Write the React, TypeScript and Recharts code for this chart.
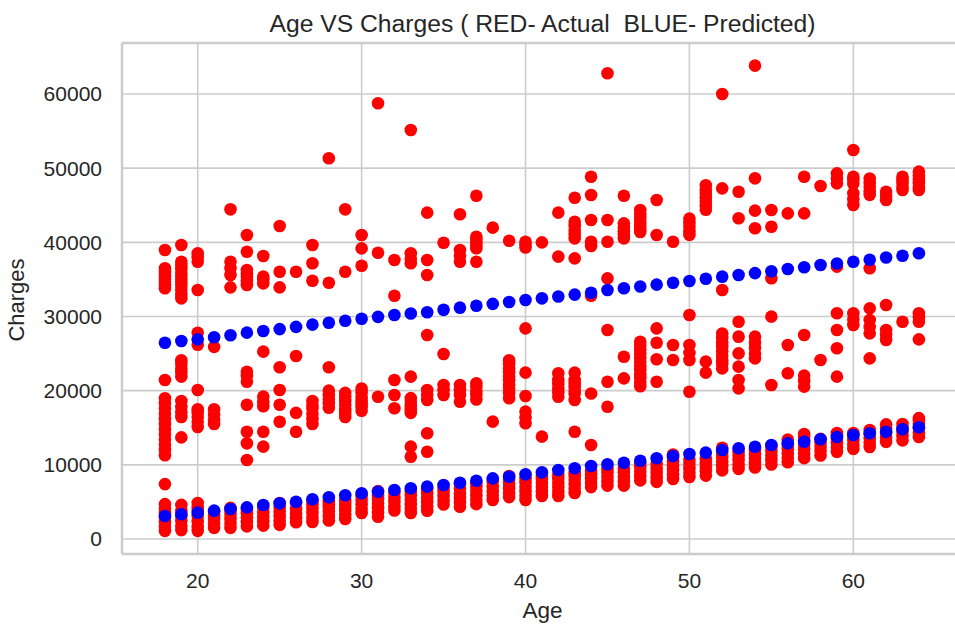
import React from 'react';
import { ScatterChart, Scatter, XAxis, YAxis, CartesianGrid, ReferenceLine } from 'recharts';

// Ages shown on the x axis (one column of points per age)
const ages = [
  18, 19, 20, 21, 22, 23, 24, 25, 26, 27, 28, 29, 30, 31, 32, 33, 34, 35, 36, 37, 38, 39, 40, 41,
  42, 43, 44, 45, 46, 47, 48, 49, 50, 51, 52, 53, 54, 55, 56, 57, 58, 59, 60, 61, 62, 63, 64,
];
const xTicks = [20, 30, 40, 50, 60];
const yTicks = [0, 10000, 20000, 30000, 40000, 50000, 60000];

// Actual charges (red), dense lower band, one row per age
const actualLowBand: number[][] = [
  [1100, 1700, 2300, 2900, 3500, 4100, 4700, 7400], // 18
  [1200, 1800, 2500, 3100, 3800, 4600], // 19
  [1100, 1700, 2400, 3100, 3800, 4300, 4850], // 20
  [1500, 2100, 2700, 3200, 3700], // 21
  [1500, 2100, 2700, 3300, 3800, 4200], // 22
  [1700, 2300, 2900, 3500, 4000], // 23
  [1800, 2400, 3000, 3600, 4300], // 24
  [1900, 2500, 3100, 3700, 4300, 4850], // 25
  [2250, 2850, 3450, 4050, 4850], // 26
  [2300, 2900, 3500, 4100, 4600, 5100], // 27
  [2500, 3100, 3700, 4300, 4700, 5100], // 28
  [2700, 3300, 3900, 4500, 4900, 5300], // 29
  [3500, 4100, 4700, 5300, 5800], // 30
  [3000, 3600, 4200, 4800, 5400, 5900, 6450], // 31
  [3850, 4400, 5000, 5600, 6200], // 32
  [3500, 4100, 4700, 5300, 5900, 6450], // 33
  [3800, 4400, 5000, 5600, 6200, 6750], // 34
  [4650, 5200, 5800, 6400, 6900], // 35
  [4350, 4950, 5550, 6150, 6800, 7500], // 36
  [4700, 5300, 5900, 6500, 7100, 7550], // 37
  [5250, 5850, 6450, 7100, 7800], // 38
  [5650, 6250, 6850, 7450, 8000, 8500], // 39
  [5250, 5850, 6450, 7050, 7650, 8200], // 40
  [5800, 6400, 7000, 7600, 8100, 8500], // 41
  [5800, 6400, 7000, 7600, 8200, 8700], // 42
  [6200, 6800, 7400, 8000, 8500, 8900], // 43
  [7000, 7600, 8200, 8700, 9200], // 44
  [7200, 7800, 8400, 9000, 9500], // 45
  [7200, 7800, 8400, 9000, 9500], // 46
  [7900, 8500, 9100, 9700, 10200], // 47
  [7700, 8300, 8900, 9500, 10100], // 48
  [8100, 8700, 9300, 9900, 10500, 11000, 11400], // 49
  [8350, 8950, 9550, 10150, 10700], // 50
  [8550, 9150, 9750, 10300, 10800], // 51
  [9250, 9850, 10450, 11050, 11650, 12300], // 52
  [9450, 10050, 10650, 11250, 11800], // 53
  [9650, 10250, 10850, 11450, 12000], // 54
  [10050, 10650, 11250, 11850, 12400], // 55
  [10350, 10950, 11550, 12150, 12750, 13400], // 56
  [10900, 11500, 12100, 12700, 13300, 13800, 14150], // 57
  [11250, 11850, 12450, 13000, 13500], // 58
  [11750, 12350, 12950, 13550, 14000, 14300], // 59
  [12150, 12750, 13350, 13900, 14300], // 60
  [12400, 13000, 13600, 14200, 14700], // 61
  [13100, 13700, 14300, 14900, 15450], // 62
  [13300, 13900, 14500, 15000, 15500], // 63
  [13750, 14350, 14950, 15550, 16000, 16300], // 64
];

// Actual charges (red), middle band
const actualMidBand: number[][] = [
  [11300, 12000, 12700, 13400, 14100, 14800, 15500, 16200, 16900, 17600, 18300, 18970, 21440], // 18
  [13700, 16450, 17100, 17800, 18600, 21900, 22500, 23000, 23600, 24100], // 19
  [15100, 15800, 16500, 17100, 17500, 20100, 26200, 27800], // 20
  [15500, 16100, 16800, 17500, 25900], // 21
  [], // 22
  [10650, 12900, 14470, 18100, 21200, 22000, 22560], // 23
  [12450, 14470, 17900, 18500, 19200, 25260], // 24
  [15800, 18100, 20100, 23150], // 25
  [14470, 17000, 24670], // 26
  [15500, 16200, 16900, 17600, 18000, 18600], // 27
  [17700, 18300, 18800, 19400, 20000, 23150], // 28
  [16450, 17000, 17500, 18100, 18600, 19200, 19700], // 29
  [17300, 17800, 18200, 18700, 19200, 19800, 20300], // 30
  [19190], // 31
  [17620, 19420, 21440], // 32
  [11100, 12450, 17000, 17500, 18000, 18500, 19000, 21890], // 33
  [11770, 14250, 18740, 19400, 20090, 27500], // 34
  [19420, 20100, 20760, 24940], // 35
  [18510, 19420, 20100, 20760], // 36
  [18800, 19400, 19900, 20500, 21000], // 37
  [15820], // 38
  [18970, 19700, 20300, 20800, 21400, 21900, 22500, 23000, 23600, 24100], // 39
  [15600, 16400, 17170, 19280, 22430, 28400], // 40
  [13800], // 41
  [19190, 19800, 20300, 20900, 21440, 22340], // 42
  [14470, 18740, 19600, 20000, 20500, 21000, 21440, 22430], // 43
  [12670, 19620], // 44
  [17840, 21210, 28180], // 45
  [21660, 24580], // 46
  [20600, 21100, 21700, 22200, 22800, 23300, 23900, 24400, 25000, 25500, 26100, 26600], // 47
  [21210, 24230, 26470, 28400], // 48
  [24130, 26160], // 49
  [19860, 24130, 25100, 26160, 30200], // 50
  [22430, 23910], // 51
  [23000, 23600, 24100, 24700, 25300, 25900, 26500, 27100, 27700], // 52
  [20310, 21440, 23240, 25030, 27280, 29300], // 53
  [24360, 25000, 25800, 26500, 27280], // 54
  [20760, 29980], // 55
  [22340, 26160], // 56
  [20540, 21300, 22030, 27500], // 57
  [24130], // 58
  [21890, 25710, 28180, 30430], // 59
  [28850, 29600, 30430], // 60
  [24360, 27730, 28600, 29530, 31100], // 61
  [26830, 27500, 28180, 31550], // 62
  [29300], // 63
  [26920, 29300, 29900, 30430], // 64
];

// Actual charges (red), upper band and outliers
const actualHighBand: number[][] = [
  [33800, 34300, 34700, 35100, 35460, 36000, 36500, 38970], // 18
  [32450, 33000, 33600, 34100, 34600, 35000, 35500, 35900, 36400, 36900, 37390, 39640], // 19
  [33570, 37390, 38000, 38520], // 20
  [], // 21
  [33930, 35600, 36500, 37390, 44450], // 22
  [34250, 34800, 35400, 35800, 36270, 38740, 40990], // 23
  [34470, 35000, 35370, 38160], // 24
  [33930, 36040, 42200], // 25
  [36040], // 26
  [34830, 37170, 39640], // 27
  [34560, 51330], // 28
  [36040, 44450], // 29
  [36850, 39190, 40990], // 30
  [38600, 58750], // 31
  [32800, 37620], // 32
  [37170, 37800, 38520, 55150], // 33
  [35600, 37620, 44000], // 34
  [39950], // 35
  [37390, 38200, 38970, 43780], // 36
  [37390, 39200, 39600, 40000, 40400, 40760, 46290], // 37
  [41980], // 38
  [40220], // 39
  [39300, 39700, 40080], // 40
  [40000], // 41
  [38070, 44000], // 42
  [37840, 40540, 41100, 41600, 42200, 42780, 46020], // 43
  [32800, 39500, 40080, 43010, 46380, 48850], // 44
  [35140, 40080, 43010, 62790], // 45
  [40540, 41000, 41500, 42000, 42560, 46290], // 46
  [41400, 41800, 42300, 42800, 43300, 43800, 44360], // 47
  [40990, 45710], // 48
  [40080], // 49
  [41000, 41500, 42100, 42600, 43200], // 50
  [44400, 44900, 45500, 46000, 46600, 47100, 47700], // 51
  [33570, 47280, 60000], // 52
  [43240, 46830], // 53
  [41890, 44270, 48630, 63820], // 54
  [35150, 42110, 44360], // 55
  [43910], // 56
  [43910, 48850], // 57
  [47600], // 58
  [36720, 47950, 48600, 49300], // 59
  [45030, 45800, 46610, 47900, 48400, 48850, 52450], // 60
  [36500, 46400, 46900, 47500, 48000, 48600], // 61
  [45710, 46300, 46830], // 62
  [47060, 47500, 48000, 48400, 48850], // 63
  [47060, 47500, 48000, 48500, 49000, 49530], // 64
];

// Predicted charges (blue)
const predictedLow = [
  3100, 3330, 3550, 3820, 4050, 4270, 4580, 4810, 5030, 5350, 5620, 5890, 6160, 6380, 6610, 6840,
  7060, 7280, 7590, 7860, 8180, 8400, 8720, 8990, 9300, 9530, 9840, 10070, 10290, 10560, 10880,
  11190, 11460, 11640, 12000, 12230, 12440, 12670, 12900, 13120, 13450, 13750, 14020, 14250, 14470,
  14790, 15060,
];
const predictedHigh = [
  26470, 26700, 26920, 27200, 27480, 27820, 28050, 28300, 28600, 28900, 29150, 29430, 29700, 29950,
  30200, 30400, 30570, 30900, 31190, 31450, 31700, 31950, 32220, 32450, 32700, 32950, 33210, 33570,
  33800, 34050, 34300, 34550, 34790, 35100, 35370, 35600, 35850, 36100, 36400, 36650, 36940, 37150,
  37390, 37650, 37950, 38200, 38520,
];

const actualPoints = ages.flatMap((age, i) =>
  [...actualLowBand[i], ...actualMidBand[i], ...actualHighBand[i]].map((charges) => ({ age, charges }))
);
const predictedPoints = ages.flatMap((age, i) => [
  { age, charges: predictedLow[i] },
  { age, charges: predictedHigh[i] },
]);

const X_DOMAIN: [number, number] = [15.38, 66.63];
const Y_DOMAIN: [number, number] = [-2022, 66876];
const FONT = '"Liberation Sans", Arial, sans-serif';
const TEXT = '#262626';
const GRID = '#cccccc';

const makeDot = (color: string) => (p: any) => {
  if (p.cx == null || p.cy == null) return <g />;
  return <circle cx={p.cx} cy={p.cy} r={6.3} fill={color} />;
};

export default function App() {
  return (
    <div
      style={{
        position: 'absolute',
        left: 0,
        top: 0,
        width: 955,
        height: 625,
        overflow: 'hidden',
        background: '#ffffff',
      }}
    >
      <ScatterChart width={962} height={625} margin={{ top: 43, right: 0, bottom: 0, left: 0 }}>
        <CartesianGrid stroke={GRID} strokeWidth={1.6} />
        <XAxis
          type="number"
          dataKey="age"
          domain={X_DOMAIN}
          ticks={xTicks}
          allowDataOverflow
          height={71}
          tickLine={false}
          tickSize={0}
          tickMargin={19}
          axisLine={{ stroke: GRID, strokeWidth: 2.5 }}
          tick={{ fontSize: 21, fill: TEXT, fontFamily: FONT }}
        />
        <YAxis
          type="number"
          dataKey="charges"
          domain={Y_DOMAIN}
          ticks={yTicks}
          allowDataOverflow
          width={122}
          tickLine={false}
          tickSize={0}
          tickMargin={20}
          axisLine={{ stroke: GRID, strokeWidth: 2.5 }}
          tick={{ fontSize: 21, fill: TEXT, fontFamily: FONT }}
        />
        <ReferenceLine y={Y_DOMAIN[1]} stroke={GRID} strokeWidth={2.5} ifOverflow="visible" />
        <Scatter data={actualPoints} isAnimationActive={false} shape={makeDot('#ff0000')} />
        <Scatter data={predictedPoints} isAnimationActive={false} shape={makeDot('#0000ff')} />
      </ScatterChart>
      <svg
        width={955}
        height={625}
        style={{ position: 'absolute', left: 0, top: 0, pointerEvents: 'none' }}
      >
        <text
          x={542.5}
          y={32}
          textAnchor="middle"
          fontSize={24.7}
          fill={TEXT}
          fontFamily={FONT}
          style={{ whiteSpace: 'pre' }}
        >
          {'Age VS Charges ( RED- Actual  BLUE- Predicted)'}
        </text>
        <text x={542.5} y={618} textAnchor="middle" fontSize={22.5} fill={TEXT} fontFamily={FONT}>
          Age
        </text>
        <text
          x={23.5}
          y={300}
          textAnchor="middle"
          fontSize={22}
          fill={TEXT}
          fontFamily={FONT}
          transform="rotate(-90 23.5 300)"
        >
          Charges
        </text>
      </svg>
    </div>
  );
}
